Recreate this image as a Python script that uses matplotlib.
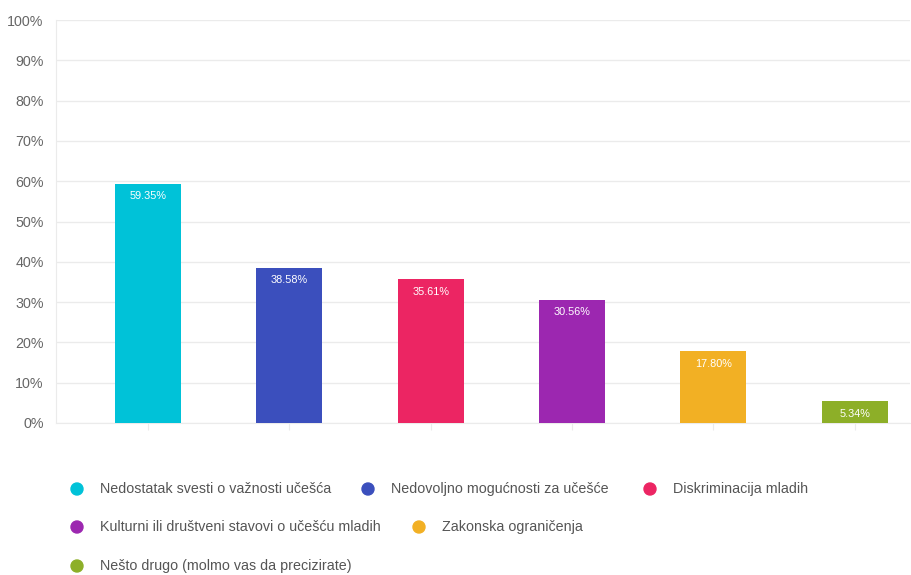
import matplotlib.pyplot as plt
from matplotlib.patches import Ellipse
from matplotlib.ticker import FuncFormatter

plt.rcParams['font.family'] = ['Liberation Sans', 'DejaVu Sans']

categories = [
    'Nedostatak svesti o važnosti učešća',
    'Nedovoljno mogućnosti za učešće',
    'Diskriminacija mladih',
    'Kulturni ili društveni stavovi o učešću mladih',
    'Zakonska ograničenja',
    'Nešto drugo (molmo vas da precizirate)',
]
values = [59.35, 38.58, 35.61, 30.56, 17.80, 5.34]
colors = ['#00C2D8', '#3B4FBD', '#EC2563', '#9C27B0', '#F2B024', '#8DAF28']

W, H = 911, 575
fig = plt.figure(figsize=(W / 100, H / 100), dpi=100)
ax = fig.add_axes([56 / W, (H - 423) / H, 854 / W, 403 / H])

x = list(range(len(values)))
bars = ax.bar(x, values, width=0.467, color=colors, zorder=3)
for b, v in zip(bars, values):
    ax.annotate(f'{v:.2f}%', (b.get_x() + b.get_width() / 2, v),
                xytext=(0, -9), textcoords='offset points',
                ha='center', va='center', color='white', fontsize=7.8)

ax.set_xlim(-0.65, 5.39)
ax.set_ylim(0, 100)
ax.set_yticks(range(0, 101, 10))
ax.yaxis.set_major_formatter(FuncFormatter(lambda v, p: f'{v:.0f}%'))
ax.set_xticks(x)
ax.set_xticklabels([])
ax.grid(axis='y', color='#ebebeb', linewidth=1, zorder=0)
for s in ['top', 'right']:
    ax.spines[s].set_visible(False)
ax.spines['left'].set_color('#ebebeb')
ax.spines['bottom'].set_color('#ebebeb')
ax.tick_params(axis='y', length=0, labelsize=10.3, labelcolor='#666666', pad=9)
ax.tick_params(axis='x', length=5, color='#ebebeb')

# legend laid out as in the reference (flowing rows)
legend_pos = [(77, 489), (368, 489), (650, 489), (77, 527), (419, 527), (77, 566)]
for (px, py), lab, c in zip(legend_pos, categories, colors):
    fig.patches.append(Ellipse((px / W, 1 - py / H), 12 / W, 12 / H, color=c,
                               transform=fig.transFigure, figure=fig))
    fig.text((px + 23) / W, 1 - py / H, lab, ha='left', va='center',
             fontsize=10.3, color='#555555')

fig.savefig('out.png', dpi=100)
